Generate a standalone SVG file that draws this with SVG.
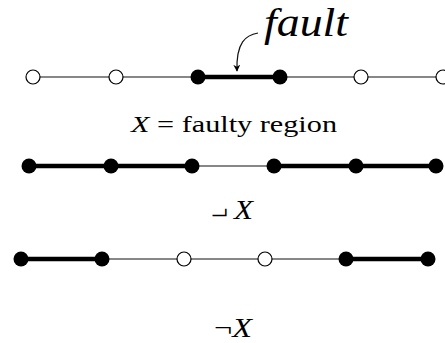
<svg xmlns="http://www.w3.org/2000/svg" width="445" height="343" viewBox="0 0 445 343">
<style>
.thin{stroke:#111;stroke-width:1.2;fill:none}
.thick{stroke:#000;stroke-width:4.5;fill:none}
.open{fill:#fff;stroke:#000;stroke-width:1.2}
.full{fill:#000;stroke:none}
.t{font-family:"Liberation Serif","DejaVu Serif",serif;fill:#000}
</style>
<defs>
<marker id="ah" viewBox="0 0 10 10" refX="9" refY="5" markerWidth="7" markerHeight="7" orient="auto" markerUnits="userSpaceOnUse">
<path d="M0,0 L10,5 L0,10 L3,5 Z" fill="#000"/>
</marker>
</defs>
<rect width="445" height="343" fill="#fff"/>
<g id="connectors">
<line class="thin" x1="33" y1="77" x2="116" y2="77" stroke="#555"/>
<line class="thin" x1="116" y1="77" x2="198" y2="77"/>
<line class="thick" x1="198" y1="77" x2="280" y2="77"/>
<line class="thin" x1="280" y1="77" x2="361" y2="77"/>
<line class="thin" x1="361" y1="77" x2="443" y2="77" stroke="#555"/>
<line class="thick" x1="29" y1="166" x2="111" y2="166"/>
<line class="thick" x1="111" y1="166" x2="192" y2="166"/>
<line class="thin" x1="192" y1="166" x2="274" y2="166"/>
<line class="thick" x1="274" y1="166" x2="356" y2="166"/>
<line class="thick" x1="356" y1="166" x2="436" y2="166"/>
<line class="thick" x1="21" y1="259" x2="102" y2="259"/>
<line class="thin" x1="102" y1="259" x2="184" y2="259" stroke="#555"/>
<line class="thin" x1="184" y1="259" x2="265" y2="259" stroke="#555"/>
<line class="thin" x1="265" y1="259" x2="346" y2="259"/>
<line class="thick" x1="346" y1="259" x2="428" y2="259"/>
<path class="thin" d="M258,33 C246,35 236,42 237,71" stroke="#000" stroke-width="1.3" marker-end="url(#ah)"/>
</g>
<g id="row1">
<circle id="a1" class="open" cx="33" cy="77" r="7"/>
<circle id="a2" class="open" cx="116" cy="77" r="7"/>
<circle id="a3" class="full" cx="198" cy="77" r="7.5"/>
<circle id="a4" class="full" cx="280" cy="77" r="7.5"/>
<circle id="a5" class="open" cx="361" cy="77" r="7"/>
<circle id="a6" class="open" cx="443" cy="77" r="7"/>
</g>
<g id="row2">
<circle id="b1" class="full" cx="29" cy="166" r="7.5"/>
<circle id="b2" class="full" cx="111" cy="166" r="7.5"/>
<circle id="b3" class="full" cx="192" cy="166" r="7.5"/>
<circle id="b4" class="full" cx="274" cy="166" r="7.5"/>
<circle id="b5" class="full" cx="356" cy="166" r="7.5"/>
<circle id="b6" class="full" cx="436" cy="166" r="7.5"/>
</g>
<g id="row3">
<circle id="c1" class="full" cx="21" cy="259" r="7.5"/>
<circle id="c2" class="full" cx="102" cy="259" r="7.5"/>
<circle id="c3" class="open" cx="184" cy="259" r="7"/>
<circle id="c4" class="open" cx="265" cy="259" r="7"/>
<circle id="c5" class="full" cx="346" cy="259" r="7.5"/>
<circle id="c6" class="full" cx="428" cy="259" r="7.5"/>
</g>
<g id="labels">
<text class="t" x="264" y="36" font-size="40" font-style="italic" textLength="84" lengthAdjust="spacingAndGlyphs">fault</text>
<text class="t" x="131" y="132" font-size="24" textLength="206" lengthAdjust="spacingAndGlyphs"><tspan font-style="italic">X</tspan> = faulty region</text>
<text class="t" x="211" y="-206" font-size="30" transform="scale(1,-1)" textLength="17" lengthAdjust="spacingAndGlyphs">¬</text>
<text class="t" x="234" y="219" font-size="27" font-style="italic" textLength="19" lengthAdjust="spacingAndGlyphs">X</text>
<text class="t" x="214" y="337" font-size="27" textLength="38" lengthAdjust="spacingAndGlyphs">¬<tspan font-style="italic">X</tspan></text>
</g>
</svg>
